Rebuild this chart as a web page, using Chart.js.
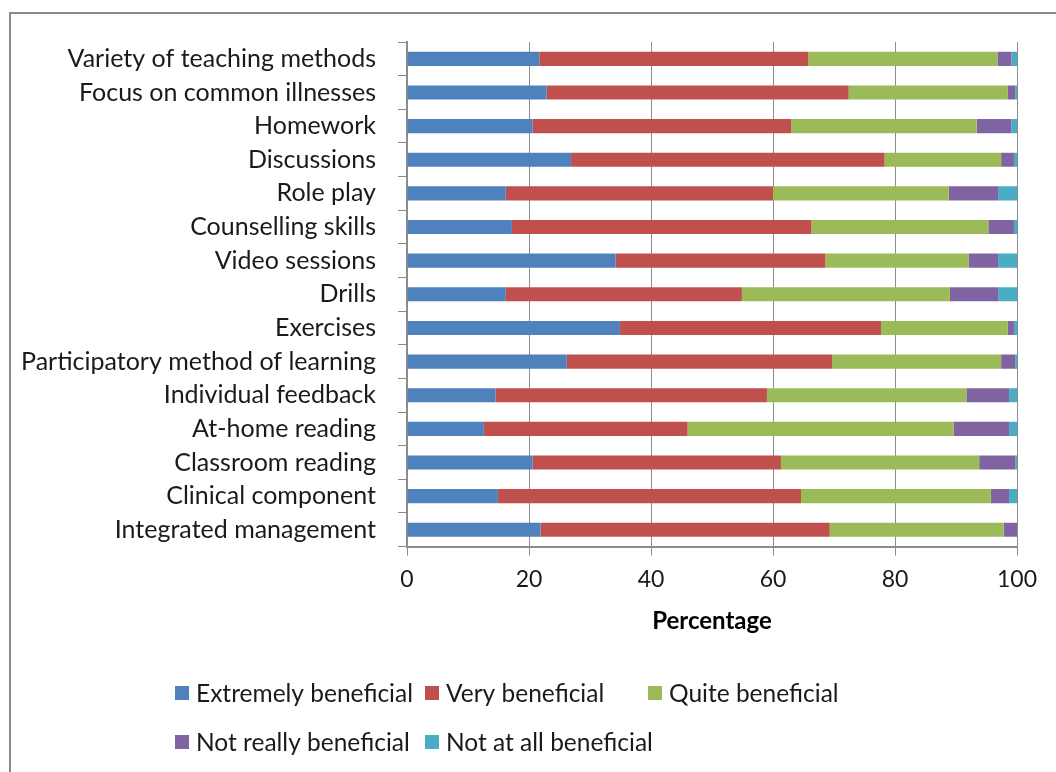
<!DOCTYPE html>
<html>
<head>
<meta charset="utf-8">
<script src="https://cdn.jsdelivr.net/npm/chart.js@4/dist/chart.umd.min.js"></script>
<style>
  html, body { margin: 0; padding: 0; background: #fff; }
  #wrap { position: relative; width: 1056px; height: 772px; overflow: hidden; }
  #frame { position: absolute; left: 9px; top: 12px; width: 1100px; height: 800px; border: 2px solid #8a8a8a; box-sizing: border-box; }
  canvas { position: absolute; left: 0; top: 0; }
</style>
</head>
<body>
<div id="wrap">
  <div id="frame"></div>
  <canvas id="chart" width="1056" height="772"></canvas>
</div>
<script>
const categories = [
  'Variety of teaching methods',
  'Focus on common illnesses',
  'Homework',
  'Discussions',
  'Role play',
  'Counselling skills',
  'Video sessions',
  'Drills',
  'Exercises',
  'Participatory method of learning',
  'Individual feedback',
  'At-home reading',
  'Classroom reading',
  'Clinical component',
  'Integrated management'
];
const extremely = [21.7, 22.9, 20.6, 26.9, 16.2, 17.2, 34.2, 16.2, 34.9, 26.2, 14.5, 12.6, 20.6, 14.9, 21.9];
const very      = [44.1, 49.5, 42.4, 51.4, 43.8, 49.1, 34.4, 38.7, 42.8, 43.5, 44.5, 33.4, 40.7, 49.7, 47.4];
const quite     = [31.0, 26.1, 30.4, 19.1, 28.8, 29.0, 23.5, 34.1, 20.8, 27.7, 32.7, 43.6, 32.5, 31.1, 28.5];
const notReally = [2.3, 1.2, 5.7, 2.1, 8.1, 4.2, 4.8, 7.9, 1.0, 2.3, 7.0, 9.1, 5.9, 3.0, 2.2];
const notAtAll  = [0.9, 0.3, 0.9, 0.5, 3.1, 0.5, 3.1, 3.1, 0.5, 0.3, 1.3, 1.3, 0.3, 1.3, 0.0];
const xTicks = [0, 20, 40, 60, 80, 100];

const FONT = 'Lato, "Open Sans", sans-serif';
const gridGray = '#8c8c8c';

// legend drawn under the axis, two rows like the original
const legendPlugin = {
  id: 'bottomLegend',
  afterDraw(chart) {
    const ctx = chart.ctx;
    const slots = [[175, 693], [425, 693], [648, 693], [175, 742], [425, 742]];
    ctx.save();
    ctx.font = '24.5px ' + FONT;
    ctx.textBaseline = 'middle';
    chart.data.datasets.forEach((ds, i) => {
      const [x, y] = slots[i];
      ctx.fillStyle = ds.backgroundColor;
      ctx.fillRect(x, y - 7, 14, 14);
      ctx.fillStyle = '#1a1a1a';
      ctx.fillText(ds.label, x + 21, y + 1);
    });
    ctx.restore();
  }
};

new Chart(document.getElementById('chart').getContext('2d'), {
  type: 'bar',
  data: {
    labels: categories,
    datasets: [
      { label: 'Extremely beneficial', data: extremely, backgroundColor: '#4F81BD' },
      { label: 'Very beneficial', data: very, backgroundColor: '#C0504D' },
      { label: 'Quite beneficial', data: quite, backgroundColor: '#9BBB59' },
      { label: 'Not really beneficial', data: notReally, backgroundColor: '#8064A2' },
      { label: 'Not at all beneficial', data: notAtAll, backgroundColor: '#4BACC6' }
    ]
  },
  options: {
    indexAxis: 'y',
    responsive: false,
    animation: false,
    barPercentage: 0.42,
    categoryPercentage: 1,
    layout: { padding: { top: 42, right: 39, left: 0, bottom: 136 } },
    plugins: {
      legend: { display: false },
      tooltip: { enabled: false }
    },
    scales: {
      x: {
        stacked: true,
        min: 0,
        max: 100,
        afterBuildTicks: (scale) => { scale.ticks = xTicks.map(v => ({ value: v })); },
        grid: { color: gridGray, lineWidth: 1, tickLength: 9, drawOnChartArea: true },
        border: { color: gridGray, width: 2 },
        ticks: { color: '#1a1a1a', font: { family: FONT, size: 23 }, padding: 10 },
        title: {
          display: true,
          text: 'Percentage',
          color: '#000',
          font: { family: FONT, size: 24, weight: 'bold' },
          padding: { top: 4, bottom: 0 }
        }
      },
      y: {
        stacked: true,
        afterFit: (scale) => { scale.width = 407; },
        grid: { offset: true, drawOnChartArea: false, color: gridGray, tickLength: 9 },
        border: { color: gridGray, width: 2 },
        ticks: { color: '#1a1a1a', font: { family: FONT, size: 25 }, padding: 22, autoSkip: false }
      }
    }
  },
  plugins: [legendPlugin]
});
</script>
</body>
</html>
